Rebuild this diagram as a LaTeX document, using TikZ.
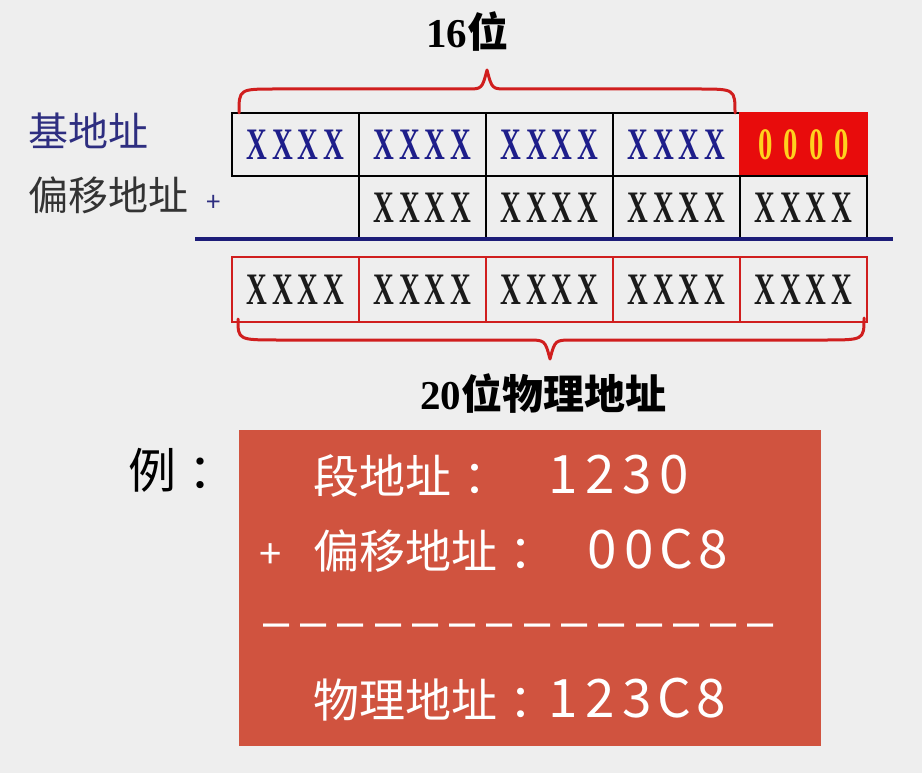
\documentclass[tikz,border=0pt]{standalone}
\usepackage{fontspec}
\setmainfont{Liberation Serif}
\newfontfamily\cjk{Noto Sans CJK SC}
\newfontfamily\lserif{Liberation Serif}
\newfontfamily\xfont{Liberation Serif}[FakeStretch=0.64]
\newfontfamily\lsans{Liberation Sans}
\ExplSyntaxOn
\NewDocumentCommand\spaced{mm}{\tl_map_inline:nn{#2}{\makebox[#1]{##1}}}
\ExplSyntaxOff
\newcommand\cc{\kern12pt：}
\definecolor{bg}{HTML}{EEEEEE}
\definecolor{xblue}{HTML}{1E1E8A}
\definecolor{lblue}{HTML}{2E2E80}
\definecolor{bracered}{HTML}{D01E1E}
\definecolor{boxred}{HTML}{E80C0C}
\definecolor{zeroy}{HTML}{FFD21E}
\definecolor{navy}{HTML}{1C1C78}
\definecolor{panel}{HTML}{D0533F}
\definecolor{darktext}{HTML}{1A1A1A}
\definecolor{graytext}{HTML}{333333}
\begin{document}
\begin{tikzpicture}[x=1pt,y=-1pt,
  cell/.style={draw=black, line width=2.2pt, minimum width=127pt, minimum height=63pt,
    inner sep=0pt, outer sep=0pt, font=\xfont\bfseries\fontsize{45}{45}\selectfont},
  rcell/.style={cell, draw=bracered, minimum height=65pt, text=darktext},
  brace/.style={draw=bracered, line width=3pt, line cap=round, line join=round},
  lab/.style={font=\cjk\fontsize{40}{40}\selectfont, inner sep=0pt, anchor=west},
  title/.style={font=\fontsize{41}{41}\selectfont\bfseries, inner sep=0pt},
  wtext/.style={text=white, inner sep=0pt, anchor=base west, font=\cjk\fontsize{46}{46}\selectfont},
  wdig/.style={text=white, inner sep=0pt, anchor=base west, font=\cjk\fontsize{53}{53}\selectfont}
]
\fill[bg] (0,0) rectangle (922,773);
\useasboundingbox (0,0) rectangle (922,773);

% base address row
\node[cell, text=xblue] (b1) at (295.5,144.5) {\spaced{25.5pt}{XXXX}};
\node[cell, text=xblue] (b2) at (422.5,144.5) {\spaced{25.5pt}{XXXX}};
\node[cell, text=xblue] (b3) at (549.5,144.5) {\spaced{25.5pt}{XXXX}};
\node[cell, text=xblue] (b4) at (676.5,144.5) {\spaced{25.5pt}{XXXX}};
\node[cell, draw=boxred, fill=boxred, text=zeroy] (b5) at (803.5,144.5) {\spaced{25.5pt}{0000}};

% offset row
\node[cell, text=darktext] (o2) at (422.5,207.5) {\spaced{25.5pt}{XXXX}};
\node[cell, text=darktext] (o3) at (549.5,207.5) {\spaced{25.5pt}{XXXX}};
\node[cell, text=darktext] (o4) at (676.5,207.5) {\spaced{25.5pt}{XXXX}};
\node[cell, text=darktext] (o5) at (803.5,207.5) {\spaced{25.5pt}{XXXX}};

% sum line
\coordinate (ls) at (195,239);
\coordinate (le) at (893,239);
\draw[navy, line width=3.5pt] (ls) -- (le);

% result row
\node[rcell] (r1) at (295.5,289.5) {\spaced{25.5pt}{XXXX}};
\node[rcell] (r2) at (422.5,289.5) {\spaced{25.5pt}{XXXX}};
\node[rcell] (r3) at (549.5,289.5) {\spaced{25.5pt}{XXXX}};
\node[rcell] (r4) at (676.5,289.5) {\spaced{25.5pt}{XXXX}};
\node[rcell] (r5) at (803.5,289.5) {\spaced{25.5pt}{XXXX}};

% braces
\draw[brace] (239,113) .. controls (239,89) .. (276,89) -- (467,89)
  .. controls (482,89) .. (487,70) .. controls (492,89) .. (507,89)
  -- (698,89) .. controls (735,89) .. (735,113);
\draw[brace] (238,319) .. controls (238,340) .. (280,340) -- (527,340)
  .. controls (545,340) .. (550,359) .. controls (555,340) .. (573,340)
  -- (824,340) .. controls (864,340) .. (864,318);

% labels
\node[lab, text=lblue] (lbase) at (28,131) {基地址};
\node[lab, text=graytext] (loff) at (28,195) {偏移地址};
\node[font=\cjk\fontsize{26}{26}\selectfont, text=lblue, inner sep=0pt] (lplus) at (214,203) {+};
\node[title] (t16) at (467,32) {{\lserif 16}{\cjk 位}};
\node[title] (t20) at (543,394) {{\lserif 20}{\cjk 位物理地址}};

% example
\node[font=\cjk\fontsize{48}{48}\selectfont, inner sep=0pt, anchor=west] (li) at (128,470) {例\cc};
\node[fill=panel, minimum width=582pt, minimum height=316pt, inner sep=0pt, anchor=north west] (panel) at (239,430) {};
\node[wtext] (l1) at (313,493) {段地址\cc};
\node[wdig] (d1) at (545,493) {\spaced{37pt}{1230}};
\node[wtext, font=\cjk\fontsize{40}{40}\selectfont] (p2) at (259,568) {+};
\node[wtext] (l2) at (313,568) {偏移地址\cc};
\node[wdig] (d2) at (584,568) {\spaced{37pt}{00C8}};
\node[wtext, font=\lsans\fontsize{47}{47}\selectfont] (dl) at (257.4,637) {\spaced{37.3pt}{––––––––––––––}};
\node[wtext] (l4) at (313,717) {物理地址\cc};
\node[wdig] (d4) at (545,717) {\spaced{37pt}{123C8}};
\end{tikzpicture}
\end{document}
